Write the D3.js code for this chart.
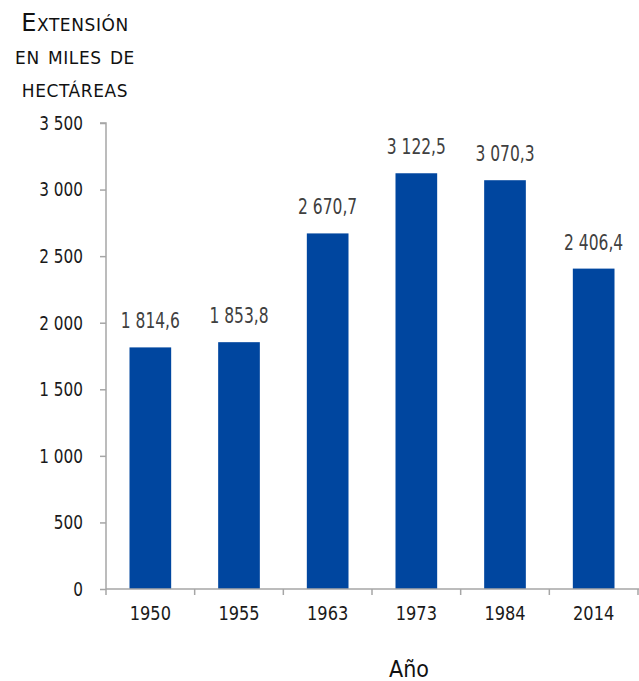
<!DOCTYPE html>
<html><head><meta charset="utf-8">
<script src="https://cdn.jsdelivr.net/npm/d3@7"></script>
<style>
body{margin:0;background:#fff}
svg{display:block}
.num{font-family:"Liberation Sans Narrow","DejaVu Sans Condensed","DejaVu Sans",sans-serif;font-stretch:condensed}
</style></head>
<body><svg id="c" width="639" height="681"></svg>
<script>
const years = ["1950","1955","1963","1973","1984","2014"];
const values = [1814.6,1853.8,2670.7,3122.5,3070.3,2406.4];
const yTicks = [0,500,1000,1500,2000,2500,3000,3500];
const titleLines = ["Extensión","en miles de","hectáreas"];
const xTitle = "Año";

const svg = d3.select("#c");
const x0 = 106, x1 = 638, yBottom = 589, yTop = 123;
const x = d3.scaleBand().domain(years).range([x0,x1]).paddingInner(0.53).paddingOuter(0.265);
const xb = d3.scaleBand().domain(years).range([x0,x1]);
const y = d3.scaleLinear().domain([0,3500]).range([yBottom,yTop]);
const fmt = v => d3.format(",")(v).replace(/,/g," ");
const fmt1 = v => d3.format(",.1f")(v).replace(/,/g," ").replace(".",",");

// condense text horizontally around its anchor
function squeeze(sel, k){
  sel.each(function(){
    const t = d3.select(this);
    const w = this.getComputedTextLength();
    t.attr("textLength", w*k).attr("lengthAdjust","spacingAndGlyphs");
  });
}

// bars
svg.selectAll("rect.bar").data(values).join("rect")
  .attr("x",(d,i)=>x(years[i])).attr("width",x.bandwidth())
  .attr("y",d=>y(d)).attr("height",d=>yBottom-y(d)).attr("fill","#00469f");

// y axis
const gy = svg.append("g").attr("transform",`translate(${x0},0)`)
  .call(d3.axisLeft(y).tickValues(yTicks).tickSize(6).tickPadding(17).tickFormat(fmt));
gy.select(".domain").attr("stroke","#a6a6a6").attr("stroke-width",1.5).attr("d",`M-6,${yTop}H0V${yBottom}`);
gy.selectAll(".tick line").attr("stroke","#a6a6a6").attr("stroke-width",1.5);
gy.selectAll("text").attr("class","num").attr("font-size",20).attr("fill","#1a1a1a").call(squeeze,0.85);

// x axis
const gx = svg.append("g").attr("transform",`translate(0,${yBottom})`)
  .call(d3.axisBottom(xb).tickSize(0).tickPadding(17));
gx.select(".domain").attr("stroke","#a6a6a6").attr("stroke-width",1.5).attr("d",`M${x0},0H${x1+1}`);
gx.selectAll("text").attr("class","num").attr("font-size",20).attr("fill","#1a1a1a").call(squeeze,0.9);
const bounds = years.map(d=>xb(d)).concat([x1]);
svg.append("g").selectAll("line").data(bounds).join("line")
  .attr("x1",d=>d).attr("x2",d=>d).attr("y1",yBottom).attr("y2",yBottom+6)
  .attr("stroke","#a6a6a6").attr("stroke-width",1.5);

// value labels
svg.selectAll("text.val").data(values).join("text").attr("class","num val")
  .attr("x",(d,i)=>x(years[i])+x.bandwidth()/2).attr("y",d=>y(d)-19)
  .attr("text-anchor","middle").attr("font-size",21).attr("fill","#404040")
  .text(fmt1).call(squeeze,0.82);

// title
svg.append("g").selectAll("text").data(titleLines).join("text")
  .attr("x",75).attr("y",(d,i)=>31+i*33).attr("text-anchor","middle")
  .attr("font-family","DejaVu Sans, sans-serif").attr("font-size",24)
  .style("font-variant","small-caps").style("letter-spacing","0.6px").attr("fill","#111").text(d=>d);

svg.append("text").attr("x",409).attr("y",677).attr("text-anchor","middle")
  .attr("class","num").attr("font-size",23).attr("fill","#111").text(xTitle);
</script></body></html>
